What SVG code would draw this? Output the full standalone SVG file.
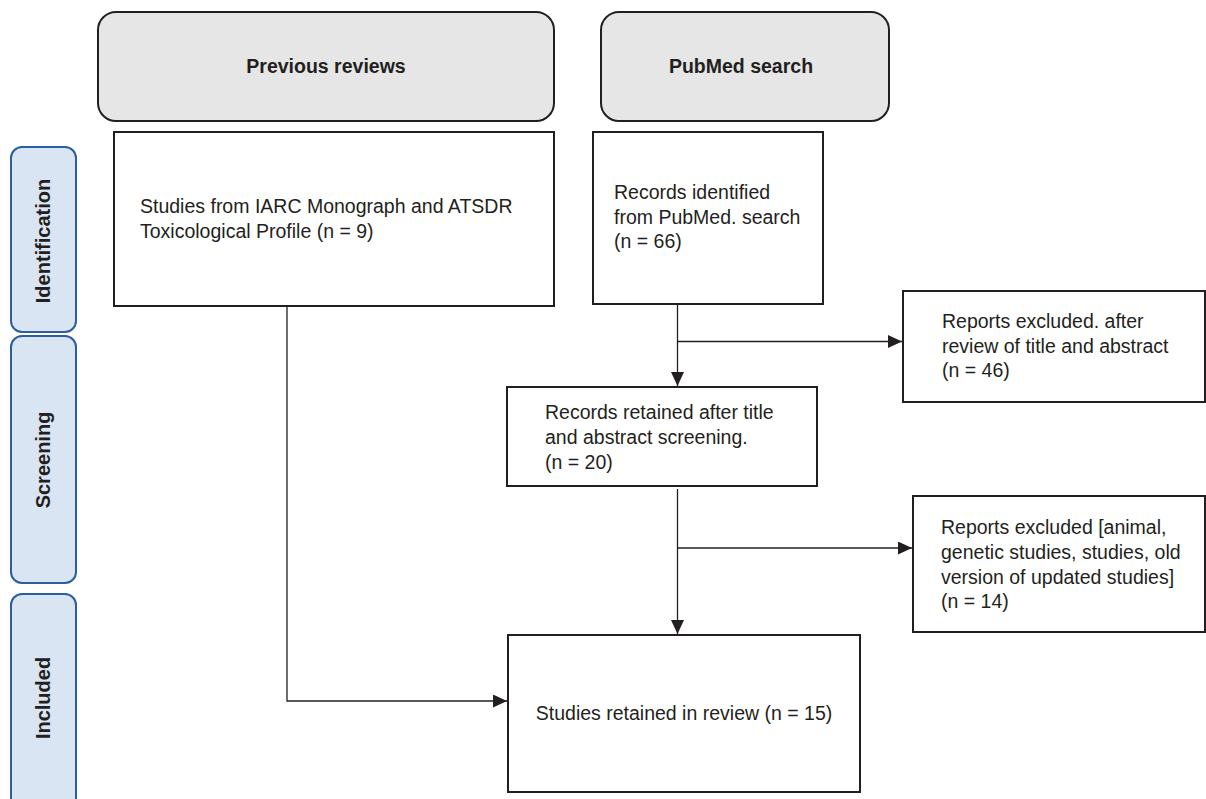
<svg xmlns="http://www.w3.org/2000/svg" width="1206" height="799" viewBox="0 0 1206 799">
<defs>
<style>
.hdr{fill:#e6e6e6;stroke:#231f20;stroke-width:2}
.box{fill:#ffffff;stroke:#231f20;stroke-width:2}
.side{fill:#dae5f3;stroke:#2e5d9e;stroke-width:2}
.t{font-family:"Liberation Sans",Arial,sans-serif;font-size:19.5px;fill:#231f20}
.b{font-family:"Liberation Sans",Arial,sans-serif;font-size:19.5px;font-weight:bold;fill:#231f20}
.s{font-family:"Liberation Sans",Arial,sans-serif;font-size:20px;font-weight:bold;fill:#231f20}
.c{fill:none;stroke:#231f20;stroke-width:1.3}
</style>
<marker id="ah" markerUnits="userSpaceOnUse" markerWidth="15" markerHeight="13" refX="14" refY="6.5" orient="auto" viewBox="0 0 15 13">
<path d="M0,0 L14,6.5 L0,13 z" fill="#231f20"/>
</marker>
</defs>
<rect width="1206" height="799" fill="#ffffff"/>

<g id="stage-identification">
<rect class="side" x="11" y="147" width="65" height="185" rx="11"/>
<text class="s" transform="translate(50,241) rotate(-90)" text-anchor="middle">Identification</text>
</g>
<g id="stage-screening">
<rect class="side" x="11" y="336" width="65" height="247" rx="11"/>
<text class="s" transform="translate(50,460) rotate(-90)" text-anchor="middle">Screening</text>
</g>
<g id="stage-included">
<rect class="side" x="11" y="594" width="65" height="220" rx="11"/>
<text class="s" transform="translate(50,698) rotate(-90)" text-anchor="middle">Included</text>
</g>

<g id="hdr-previous">
<rect class="hdr" x="98" y="12" width="456" height="109" rx="18"/>
<text class="b" x="326" y="73" text-anchor="middle">Previous reviews</text>
</g>
<g id="hdr-pubmed">
<rect class="hdr" x="601" y="12" width="288" height="109" rx="18"/>
<text class="b" x="741" y="73" text-anchor="middle">PubMed search</text>
</g>

<g id="node-iarc">
<rect class="box" x="114" y="132" width="440" height="174"/>
<text class="t" x="140" y="213">Studies from IARC Monograph and ATSDR</text>
<text class="t" x="140" y="238">Toxicological Profile (n = 9)</text>
</g>
<g id="node-identified">
<rect class="box" x="593" y="132" width="230" height="172"/>
<text class="t" x="614" y="199">Records identified</text>
<text class="t" x="614" y="223.5">from PubMed. search</text>
<text class="t" x="614" y="248">(n = 66)</text>
</g>
<g id="node-excluded1">
<rect class="box" x="903" y="291" width="302" height="111"/>
<text class="t" x="942" y="328">Reports excluded. after</text>
<text class="t" x="942" y="352.5">review of title and abstract</text>
<text class="t" x="942" y="377">(n = 46)</text>
</g>
<g id="node-retained">
<rect class="box" x="507" y="387" width="310" height="99"/>
<text class="t" x="545" y="419">Records retained after title</text>
<text class="t" x="545" y="444">and abstract screening.</text>
<text class="t" x="545" y="468.5">(n = 20)</text>
</g>
<g id="node-excluded2">
<rect class="box" x="913" y="496" width="292" height="136"/>
<text class="t" x="941" y="534">Reports excluded [animal,</text>
<text class="t" x="941" y="559">genetic studies, studies, old</text>
<text class="t" x="941" y="583.5">version of updated studies]</text>
<text class="t" x="941" y="608">(n = 14)</text>
</g>
<g id="node-final">
<rect class="box" x="508" y="635" width="352" height="157"/>
<text class="t" x="684" y="720" text-anchor="middle">Studies retained in review (n = 15)</text>
</g>

<g id="connectors">
<path class="c" d="M287,306 V701 H507" marker-end="url(#ah)"/>
<path class="c" d="M677.5,304 V386" marker-end="url(#ah)"/>
<path class="c" d="M677.5,341.5 H902" marker-end="url(#ah)"/>
<path class="c" d="M677.5,489 V634" marker-end="url(#ah)"/>
<path class="c" d="M677.5,548 H912" marker-end="url(#ah)"/>
</g>
</svg>
